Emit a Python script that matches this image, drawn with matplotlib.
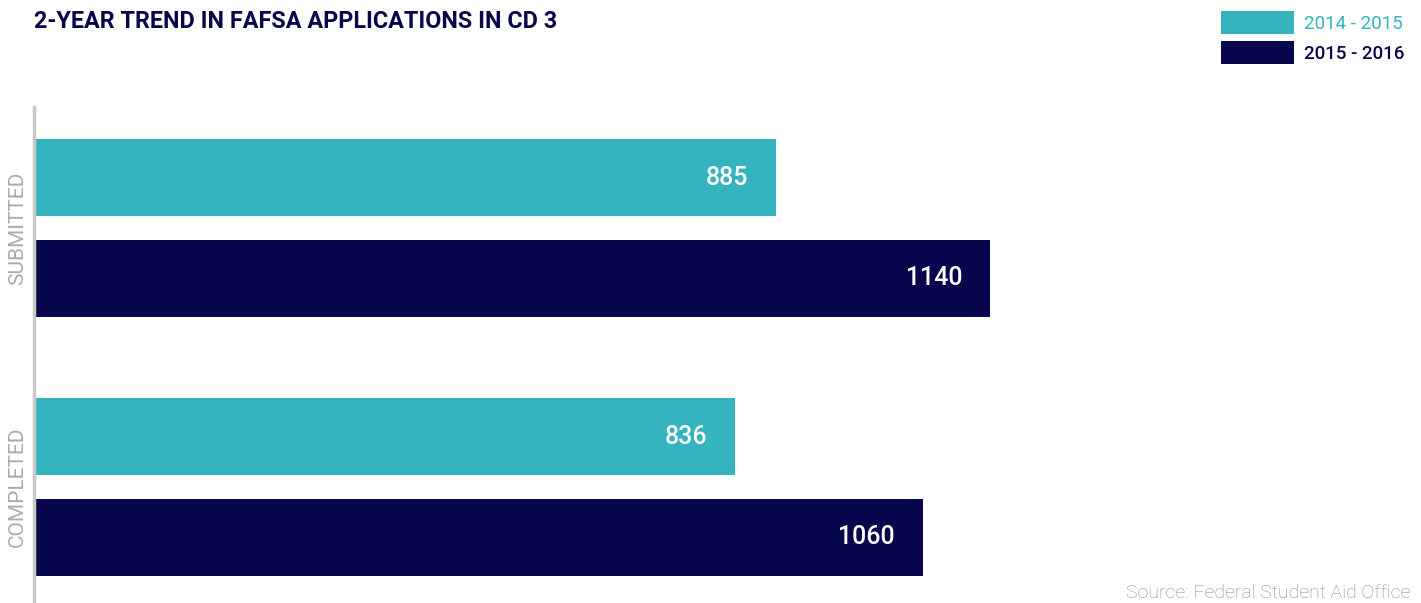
import matplotlib
matplotlib.use('Agg')
import matplotlib.pyplot as plt
import numpy as np

plt.rcParams['font.family'] = ['Roboto', 'DejaVu Sans']

# data
categories = ['SUBMITTED', 'COMPLETED']
series_names = ['2014 - 2015', '2015 - 2016']
values_2014 = [885, 836]
values_2015 = [1140, 1060]
colors = ['#35B4BF', '#08064C']

fig = plt.figure(figsize=(14.21, 6.03), dpi=100)
ax = fig.add_axes([34 / 1421, 0, 1 - 34 / 1421, 1 - 107 / 603])

y = np.arange(len(categories))
offset = 0.194
height = 0.297

bars1 = ax.barh(y - offset, values_2014, height=height, color=colors[0], label=series_names[0])
bars2 = ax.barh(y + offset, values_2015, height=height, color=colors[1], label=series_names[1])

# value labels inside the bar ends
for bars in (bars1, bars2):
    for b in bars:
        ax.annotate(f'{int(b.get_width())}', (b.get_width(), b.get_y() + b.get_height() / 2),
                    xytext=(-20, 0), textcoords='offset points', ha='right', va='center',
                    color='white', fontsize=18, fontweight='medium')

ax.set_xlim(0, 1654)
ax.set_ylim(1.448, -0.467)

# category labels rotated on the left
for yi, cat in zip(y, categories):
    ax.annotate(cat, (0, yi), xytext=(-12, 0), textcoords='offset points', rotation=90,
                ha='center', va='center', color='#ababab', fontsize=15)

for s in ['top', 'right', 'bottom']:
    ax.spines[s].set_visible(False)
ax.spines['left'].set_color('#c8c8c8')
ax.spines['left'].set_linewidth(2.5)
ax.set_xticks([])
ax.set_yticks([])

fig.text(34 / 1421, 1 - 22 / 603, '2-YEAR TREND IN FAFSA APPLICATIONS IN CD 3', ha='left', va='center',
         fontsize=16.8, fontweight='bold', color='#08064C')

leg = fig.legend(loc='upper right', bbox_to_anchor=(1421 / 1421, 1 + 6 / 603), frameon=False,
                 fontsize=13.5, handlelength=3.9, handleheight=1.55, handletextpad=0.5, labelspacing=0.35)
for t, c, w in zip(leg.get_texts(), colors, ['normal', 'medium']):
    t.set_color(c)
    t.set_fontweight(w)

fig.text(1410 / 1421, 1 / 603, 'Source: Federal Student Aid Office', ha='right', va='bottom',
         fontsize=14, fontweight='light', color='#8c8c8c')

fig.savefig('out.png', dpi=100)
